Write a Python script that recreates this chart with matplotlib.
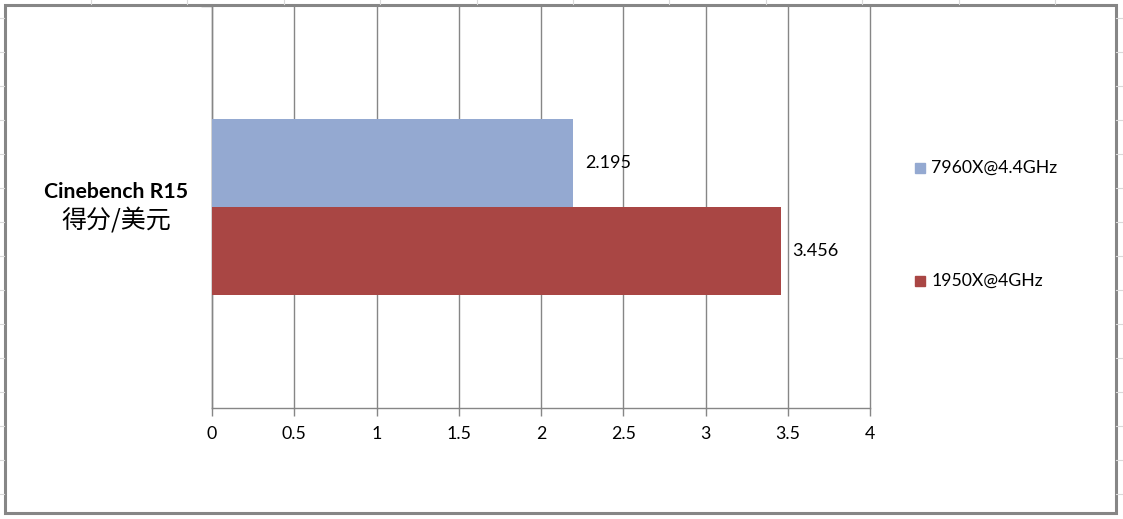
import matplotlib
matplotlib.use("Agg")
import matplotlib.pyplot as plt
from matplotlib.patches import Rectangle
from matplotlib.lines import Line2D

series_names = ["7960X@4.4GHz", "1950X@4GHz"]
values = [2.195, 3.456]
colors = ["#94A9D1", "#A94644"]
category_line1 = "Cinebench R15"
category_line2 = "得分/美元"
xticks = [0, 0.5, 1, 1.5, 2, 2.5, 3, 3.5, 4]
xtick_labels = ["0", "0.5", "1", "1.5", "2", "2.5", "3", "3.5", "4"]

W, H = 1123, 519
fig = plt.figure(figsize=(W / 100, H / 100), dpi=100)
fig.patch.set_facecolor("white")

def fx(px):
    return px / W

def fy(py):
    return 1 - py / H

# faint spreadsheet gridlines outside the chart frame
for y in range(18, 519, 34):
    fig.add_artist(Line2D([0, fx(4)], [fy(y), fy(y)], color="#D9D9D9", lw=0.8))
    fig.add_artist(Line2D([fx(1116), 1], [fy(y), fy(y)], color="#D9D9D9", lw=0.8))
for i in range(11):
    x = 91 + i * 96.4
    fig.add_artist(Line2D([fx(x), fx(x)], [fy(0), fy(4)], color="#D9D9D9", lw=0.8))

# chart frame
fig.add_artist(Rectangle((fx(4.5), fy(512.5)), fx(1115.5 - 4.5), (512.5 - 4.5) / H,
                         fill=False, edgecolor="#868686", lw=2.2))

ax = fig.add_axes([fx(212), fy(408), fx(870 - 212), (408 - 6) / H])
ax.set_facecolor("white")

bar_h = 0.22
offsets = [bar_h / 2, -bar_h / 2]
for name, v, c, off in zip(series_names, values, colors, offsets):
    ax.barh(off, v, height=bar_h, color=c, label=name, zorder=3)
    ax.text(v + 0.072, off, f"{v:.3f}", va="center", ha="left",
            fontsize=13, family="Lato", color="black")

ax.set_xlim(0, 4)
ax.set_ylim(-0.5, 0.5)
ax.set_xticks(xticks)
ax.set_xticklabels(xtick_labels, family="Lato", fontsize=12.8)
ax.xaxis.grid(True, color="#868686", lw=1.0, zorder=0)
for gl in ax.get_xgridlines():
    gl.set_clip_on(False)
ax.set_yticks([0.5])
ax.set_yticklabels([""])
ax.tick_params(axis="x", length=6, width=1.0, color="#868686", pad=7)
ax.tick_params(axis="y", length=8, width=1.0, color="#868686")
for s in ["top", "right"]:
    ax.spines[s].set_visible(False)
for s in ["left", "bottom"]:
    ax.spines[s].set_color("#868686")
    ax.spines[s].set_linewidth(1.0)

# category label
fig.text(fx(116), fy(192), category_line1, ha="center", va="center",
         fontsize=15.3, fontweight="bold", family="Lato")
fig.text(fx(116), fy(221), category_line2, ha="center", va="center",
         fontsize=18, family=["Noto Sans CJK SC", "DejaVu Sans"])

# legend
leg_y = [168, 281]
for name, c, y in zip(series_names, colors, leg_y):
    fig.add_artist(Rectangle((fx(915), fy(y + 5)), fx(10), 10 / H, color=c))
    fig.text(fx(931), fy(y), name, ha="left", va="center", fontsize=12.7, family="Lato")

fig.savefig("out.png", dpi=100, facecolor="white")
